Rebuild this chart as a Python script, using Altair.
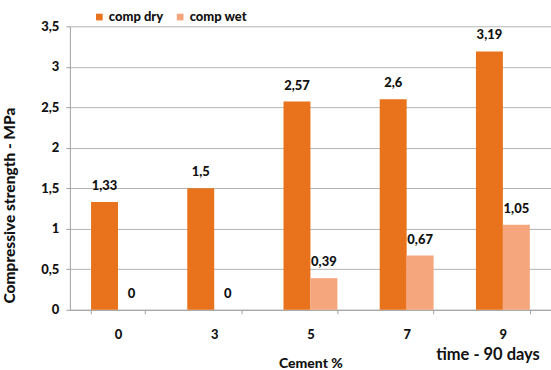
import altair as alt
import pandas as pd

cement = ["0", "3", "5", "7", "9"]
series = ["comp dry", "comp wet"]
comp_dry = [1.33, 1.5, 2.57, 2.6, 3.19]
comp_wet = [0, 0, 0.39, 0.67, 1.05]
colors = ["#E8731C", "#F5A67C"]
y_ticks = [0, 0.5, 1, 1.5, 2, 2.5, 3, 3.5]

rows = []
for c, d, w in zip(cement, comp_dry, comp_wet):
    rows.append({"cement": c, "series": series[0], "value": d})
    rows.append({"cement": c, "series": series[1], "value": w})
df = pd.DataFrame(rows)

FONT = "Lato"
W = 900

x = alt.X("cement:N", sort=cement, title="Cement %",
          scale=alt.Scale(paddingInner=0.44, paddingOuter=0.22),
          axis=alt.Axis(labelAngle=0, tickBand="extent", tickSize=4,
                        labelPadding=15, labelFontSize=13, labelFontWeight=W,
                        titleFontSize=14, titleFontWeight=W,
                        titleX=241, titleY=47))
xo = alt.XOffset("series:N", sort=series)
y = alt.Y("value:Q", title="Compressive strength - MPa",
          scale=alt.Scale(domain=[0, 3.5], nice=False),
          axis=alt.Axis(values=y_ticks, tickSize=4, labelPadding=7,
                        labelExpr="replace(toString(datum.value), '.', ',')",
                        labelFontSize=13, labelFontWeight=W,
                        titleFontSize=15.5, titleFontWeight=W,
                        titleX=-52, titleY=179))

base = alt.Chart(df)

bars = base.mark_bar().encode(
    x=x, xOffset=xo, y=y,
    color=alt.Color("series:N", sort=series,
                    scale=alt.Scale(domain=series, range=colors),
                    legend=alt.Legend(title=None, orient="none", direction="horizontal",
                                      legendX=23, legendY=-16, symbolType="square",
                                      symbolSize=45, labelFontSize=13,
                                      labelFontWeight=W, columnPadding=10,
                                      symbolOffset=0, labelOffset=3))
)

labels = base.transform_calculate(
    label="replace(toString(datum.value), '.', ',')"
).mark_text(dy=-16, fontSize=13, fontWeight=W, font=FONT, color="#111111").encode(
    x=x, xOffset=xo, y=y, text="label:N"
)

extra = alt.Chart(pd.DataFrame({"t": ["time - 90 days"]})).mark_text(
    align="left", baseline="alphabetic", fontSize=16.5, fontWeight="bold",
    font=FONT, color="#111111"
).encode(x=alt.value(367), y=alt.value(334), text="t:N")

chart = alt.layer(bars, labels, extra).properties(
    width=482, height=284,
    autosize=alt.AutoSizeParams(type="none"),
    padding={"left": 70, "top": 26, "right": 0, "bottom": 60},
    background="white"
).configure_view(stroke=None).configure_axis(
    labelFont=FONT, titleFont=FONT, labelColor="#111111", titleColor="#111111",
    domainColor="#A0A0A0", tickColor="#A0A0A0", gridColor="#B4B4B4"
).configure_axisX(grid=False).configure_legend(labelFont=FONT, labelColor="#111111")

chart.save("out.html", embed_options={"renderer": "svg", "actions": False})
